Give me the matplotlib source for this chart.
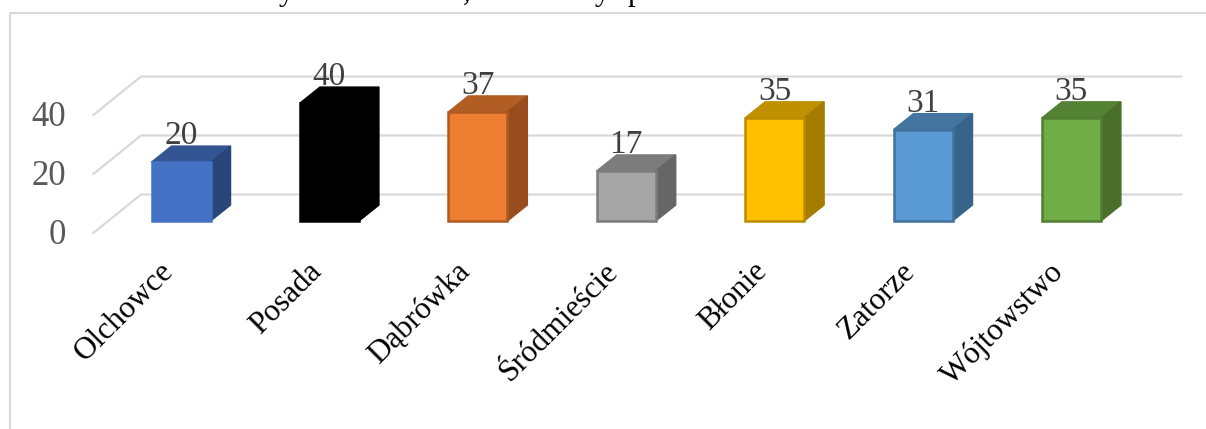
import matplotlib
matplotlib.use('Agg')
import matplotlib.pyplot as plt
from matplotlib.patches import Polygon

# dane wykresu
dzielnice = ['Olchowce', 'Posada', 'Dąbrówka', 'Śródmieście', 'Błonie', 'Zatorze', 'Wójtowstwo']
wartosci = [20, 40, 37, 17, 35, 31, 35]
ticki = [0, 20, 40]

kolory = ['#4472c4', '#000000', '#ed7d31', '#a5a5a5', '#ffc000', '#5b9bd5', '#70ad47']
gora = ['#335593', '#000000', '#b15d24', '#7c7c7c', '#bf9000', '#44749f', '#548235']
bok = ['#2a4679', '#000000', '#994d1d', '#666666', '#a67c00', '#38648c', '#4a6f2b']
ramka = ['#4472c4', '#000000', '#ae5a21', '#7c7c7c', '#bc8c00', '#41719c', '#507e32']

# resztki przycietego tekstu nad wykresem
urwany = ['y', ',', 'y', 'p']
urwany_x = [286, 467, 602, 635]

plt.rcParams['font.family'] = ['Liberation Serif', 'DejaVu Serif']

fig = plt.figure(figsize=(12.06, 4.29), dpi=100)
ax = fig.add_axes([0, 0, 1, 1])
ax.set_xlim(-1.22, 6.907)
ax.set_ylim(-70.5, 74.95)
ax.axis('off')

# glebokosc w jednostkach osi
sz = 59 / 148.4
bar_dx = 20 / 148.4
bar_dy = 16 / 2.95

# siatka 3d
x_prz = -0.59
x_tyl = -0.27
x_kon = 6.74
for t in ticki:
    y_prz = t - 4.0
    y_tyl = t + 9.0
    ax.plot([x_prz, x_tyl, x_kon], [y_prz, y_tyl, y_tyl], color='#d9d9d9', lw=1.6, zorder=1)
    ax.text(-0.775, t - 4.9, str(t), fontsize=25, color='#595959', ha='right', va='center')

for i, v in enumerate(wartosci):
    l = i - sz / 2
    r = i + sz / 2
    ax.bar(i, v, width=sz, color=kolory[i], edgecolor=ramka[i], linewidth=1.8, zorder=3)
    ax.add_patch(Polygon([(l, v), (l + bar_dx, v + bar_dy), (r + bar_dx, v + bar_dy), (r, v)],
                         closed=True, fc=gora[i], ec=gora[i], lw=1, zorder=2.5))
    ax.add_patch(Polygon([(r, 0), (r + bar_dx, bar_dy), (r + bar_dx, v + bar_dy), (r, v)],
                         closed=True, fc=bok[i], ec=bok[i], lw=1, zorder=2.5))
    ax.text(i + 0.0, v + 3.7, str(v), fontsize=24, color='#404040', ha='center', va='bottom',
            linespacing=1, zorder=4)
    ax.text(i - 0.15, -12.2, dzielnice[i], fontsize=22.5, color='black', rotation=45,
            rotation_mode='anchor', ha='right', va='top')

# obramowanie wykresu
fig.add_artist(plt.Line2D([9.5 / 1206, 9.5 / 1206, 1], [0, 1 - 12.5 / 429, 1 - 12.5 / 429],
                          color='#d9d9d9', lw=1.5))

for s, x in zip(urwany, urwany_x):
    fig.text(x / 1206, 1.0, s, fontsize=22, color='black', ha='center', va='baseline')

fig.savefig('out.png', dpi=100)
